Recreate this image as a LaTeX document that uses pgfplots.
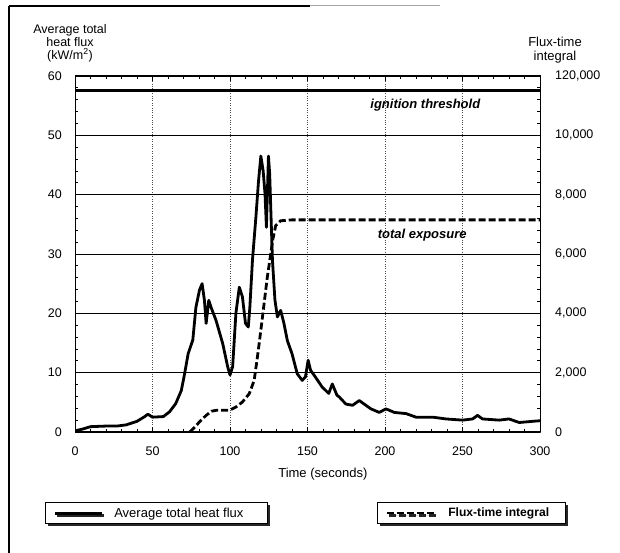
\documentclass[border=0pt]{standalone}
\usepackage{fontspec}
\setmainfont{Liberation Sans}
\usepackage{pgfplots}
\pgfplotsset{compat=1.18}
\usetikzlibrary{shadows}
\begin{document}
\fontsize{12}{14}\selectfont
\begin{tikzpicture}[x=1pt,y=1pt]
\path[use as bounding box] (0,0) rectangle (620,553);
% scanned frame
\draw[line width=1.3pt] (9,547) -- (310,547);
\draw[line width=1pt, black!35] (310,547) -- (440,547);
\draw[line width=1.3pt] (9,547) -- (9,0);
% axis titles
\node[align=center, font=\fontsize{12.5}{13}\selectfont] at (70,510) {Average total\\heat flux\\(kW/m\textsuperscript{2})};
\node[align=center, font=\fontsize{13}{14}\selectfont] at (555,503) {Flux-time\\integral};

\begin{axis}[
  at={(75pt,121pt)}, anchor=south west, scale only axis,
  width=465pt, height=356pt,
  xmin=0, xmax=300, ymin=0, ymax=60,
  xtick={0,50,...,300}, ytick={0,10,...,60},
  minor x tick num=4, minor y tick num=4,
  tick align=inside, xtick pos=both, ytick pos=left,
  major tick length=5pt, minor tick length=3pt,
  tick style={black, line width=0.8pt},
  axis line style={line width=1pt},
  ymajorgrids, xmajorgrids,
  y grid style={black, line width=0.7pt},
  x grid style={black!70, dotted, line width=0.9pt},
  /pgf/number format/assume math mode=true,
  ticklabel style={font=\fontsize{12.5}{14}\selectfont},
  yticklabel style={xshift=-9pt},
  xticklabel style={yshift=-11pt},
  xlabel={Time (seconds)},
  xlabel style={at={(axis description cs:0.533,0)}, anchor=north, yshift=-32pt, font=\fontsize{13}{15}\selectfont},
  legend style={at={(axis description cs:-0.0645,-0.197)}, anchor=north west,
    draw=black, line width=1pt, fill=white,
    drop shadow={shadow xshift=2.5pt, shadow yshift=-2.5pt, fill=black, opacity=0.85},
    inner xsep=8pt, inner ysep=3pt,
    /tikz/column sep=9pt,
    font=\fontsize{13}{15}\selectfont},
  legend image code/.code={\draw[#1] (0pt,0pt) -- (47pt,0pt);},
]
\addplot[black, line width=2.8pt, line join=round] coordinates {
(0,0.2) (5,0.5) (10,0.9) (20,1.0) (27,1.0) (33,1.2) (40,1.8) (45,2.6) (47,3.0)
(50,2.5) (57,2.6) (61,3.4) (65,4.8) (68.6,7.0) (70.7,9.8) (73,13.2) (76,15.5)
(78,21) (80.3,23.9) (82,25) (83.5,22.2) (84.6,18.3) (86.3,22.2) (87.8,21)
(91,18.8) (95.3,14.9) (98.5,11) (100,9.6) (101.7,11) (103.8,20) (106,24.4)
(108,22.8) (110,18.3) (111.8,17.7) (112.8,21) (114.5,29) (116.7,36.2)
(118.4,42.3) (119.9,46.5) (121.4,44) (122.6,40.1) (123.5,34.5) (124.8,46.5)
(125.6,43.5) (127,32) (127.4,28.9) (129,22.2) (130.6,19.4) (132.7,20.5)
(134.8,18.3) (137,15.4) (140,13.2) (143.4,9.8) (146.6,8.7) (148.7,9.3)
(150.4,12.1) (152,10.4) (155,9.3) (159.4,7.6) (163.7,6.5) (166,8.1) (169,6.2)
(170.5,5.9) (174.8,4.7) (179.1,4.5) (183.4,5.3) (186.6,4.7) (190.9,3.9)
(196.3,3.3) (200.6,3.9) (206,3.3) (213.6,3.1) (220,2.5) (230.8,2.5)
(239.4,2.2) (250,2.0) (256.5,2.2) (259.7,2.8) (262.9,2.2) (273.7,2.0)
(280,2.2) (286.6,1.6) (295.3,1.8) (300,1.9)
};
\addlegendentry{\makebox[143pt][l]{Average total heat flux}}
\node[font=\bfseries\itshape\fontsize{13}{15}\selectfont] at (axis cs:226,55.1) {ignition threshold};
\node[font=\bfseries\itshape\fontsize{13}{15}\selectfont] at (axis cs:224,33.2) {total exposure};
\end{axis}

\begin{axis}[
  at={(75pt,121pt)}, anchor=south west, scale only axis,
  width=465pt, height=356pt,
  xmin=0, xmax=300, ymin=0, ymax=12000,
  axis y line*=right, axis x line=none,
  ytick={0,2000,...,12000},
  yticklabels={0,{2,000},{4,000},{6,000},{8,000},{10,000},{120,000}},
  scaled y ticks=false,
  minor y tick num=4,
  tick align=inside,
  major tick length=5pt, minor tick length=3pt,
  tick style={black, line width=0.8pt},
  axis line style={line width=1pt},
  ticklabel style={font=\fontsize{12.5}{14}\selectfont},
  yticklabel style={anchor=west, xshift=11pt},
  legend style={at={(axis description cs:0.6495,-0.197)}, anchor=north west,
    draw=black, line width=1pt, fill=white,
    drop shadow={shadow xshift=2.5pt, shadow yshift=-2.5pt, fill=black, opacity=0.85},
    inner xsep=8pt, inner ysep=3pt,
    /tikz/column sep=11pt,
    font=\bfseries\fontsize{12.1}{15}\selectfont},
  legend image code/.code={\draw[#1] (0pt,0pt) -- (47pt,0pt);},
]
\addplot[black, line width=2.8pt, forget plot] coordinates {(0,11500) (300,11500)};
\addplot[black, line width=2.8pt, dash pattern=on 7pt off 3pt] coordinates {
(74,0) (77,150) (80.3,340) (84.6,560) (88,700) (91,730) (99.6,730) (103.8,840)
(108,1010) (112.4,1290) (115.6,1740) (117.7,2530) (119.9,3430) (122,4330)
(124.1,5230) (126.3,6010) (127.5,6460) (129.5,6960) (132.7,7120) (140,7150)
(300,7150)
};
\addlegendentry{\makebox[107pt][l]{Flux-time integral}}
\end{axis}
\end{tikzpicture}
\end{document}
